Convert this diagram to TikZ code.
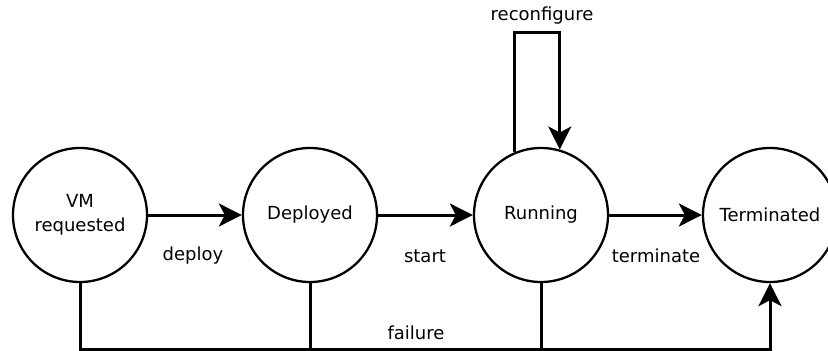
\documentclass[tikz,border=0pt]{standalone}
\usepackage{fontspec}
\setmainfont{DejaVu Sans}
\usetikzlibrary{arrows.meta}
\begin{document}
\begin{tikzpicture}[x=1pt,y=-1pt,
  state/.style={circle,draw,line width=2.3pt,minimum size=134pt,inner sep=0pt,
    align=center,font=\fontsize{18}{24}\selectfont},
  lbl/.style={font=\fontsize{18}{24}\selectfont,inner sep=0pt},
  conn/.style={line width=3pt},
  arr/.style={conn,-{Stealth[length=23pt,width=23pt,inset=6pt]}}]
\useasboundingbox (0,0) rectangle (828,351);
\begin{scope}
\clip (0,0) rectangle (828,351);
% states
\node[state] (vm)   at (80,215)  {VM\\requested};
\node[state] (dep)  at (310,215) {Deployed};
\node[state] (run)  at (541,215) {Running};
\node[state] (term) at (770,215) {Terminated};
% normal transitions
\draw[arr] (vm) -- (dep);
\draw[arr] (dep) -- (run);
\draw[arr] (run) -- (term);
% self loop on Running
\coordinate (looptop) at (537,32);
\draw[arr] (run.113) |- (looptop) -| (run.74);
% failure bus along the bottom
\coordinate (bus) at (0,349);
\draw[arr] (vm.south) |- (bus -| term.south) -- (term.south);
\draw[conn] (dep.south) -- (dep.south |- bus);
\draw[conn] (run.south) -- (run.south |- bus);
\end{scope}
% labels
\node[lbl] (ldeploy) at (193,256) {deploy};
\node[lbl] (lstart)  at (425,256) {start};
\node[lbl] (lterm)   at (656,256) {terminate};
\node[lbl] (lfail)   at (416,333) {failure};
\node[lbl] (lrecfg)  at (542,16)  {reconfigure};
\end{tikzpicture}
\end{document}
